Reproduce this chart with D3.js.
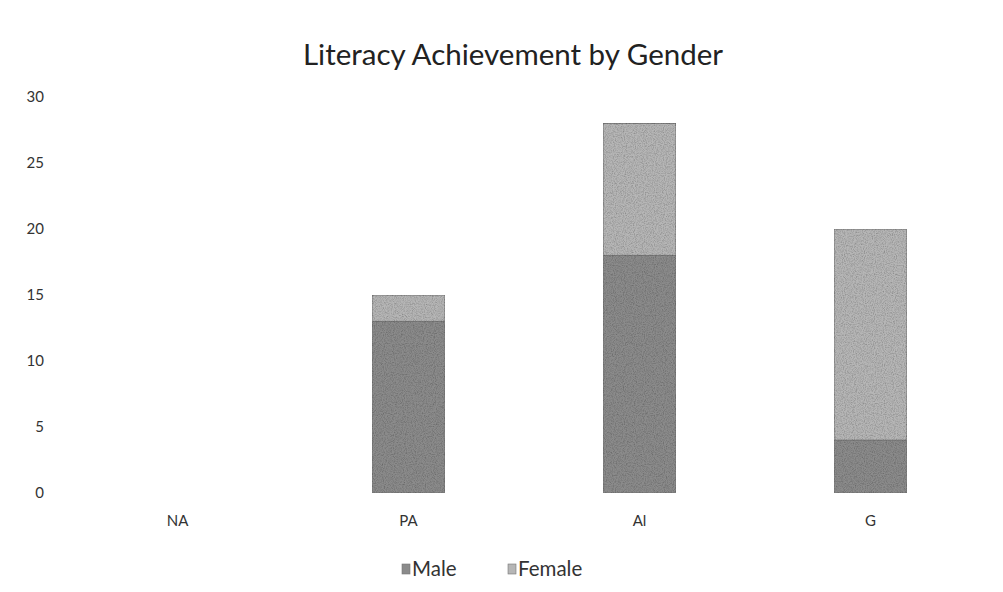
<!DOCTYPE html>
<html>
<head>
<meta charset="utf-8">
<script src="https://cdn.jsdelivr.net/npm/d3@7"></script>
<style>
  body { margin: 0; background: #fff; }
  svg { display: block; }
  text { font-family: Lato, "Open Sans", sans-serif; fill: #222; }
</style>
</head>
<body>
<svg id="chart" width="1003" height="592"></svg>
<script>
// Literacy achievement levels and counts per gender
const categories = ["NA", "PA", "Al", "G"];
const seriesNames = ["Male", "Female"];
const maleValues = [0, 13, 18, 4];
const femaleValues = [0, 2, 10, 16];
const yTicks = [0, 5, 10, 15, 20, 25, 30];
const seriesColors = ["#8b8b8b", "#b6b6b6"];

const W = 1003, H = 592;
const margin = { left: 62, right: 17, top: 97, bottom: 99 };

const svg = d3.select("#chart");

// grainy print texture for the bars
const defs = svg.append("defs");
const grain = defs.append("filter").attr("id", "grain")
  .attr("x", 0).attr("y", 0).attr("width", 1).attr("height", 1);
grain.append("feTurbulence").attr("type", "fractalNoise")
  .attr("baseFrequency", 0.9).attr("numOctaves", 2).attr("seed", 4).attr("result", "noise");
grain.append("feColorMatrix").attr("in", "noise").attr("type", "matrix")
  .attr("values", "0 0 0 0 0  0 0 0 0 0  0 0 0 0 0  0 0 0 -0.9 0.55").attr("result", "dots");
grain.append("feComposite").attr("in", "dots").attr("in2", "SourceGraphic").attr("operator", "in").attr("result", "dotsIn");
grain.append("feMerge").selectAll("feMergeNode").data(["SourceGraphic", "dotsIn"]).join("feMergeNode").attr("in", d => d);

const x = d3.scaleBand().domain(categories)
  .range([margin.left, W - margin.right]).paddingInner(0.684).paddingOuter(0.342);
const y = d3.scaleLinear().domain([0, 30]).range([H - margin.bottom, margin.top]);

// Title
svg.append("text").attr("x", 513).attr("y", 65).attr("text-anchor", "middle")
  .style("font-size", "29.5px").style("fill", "#222").text("Literacy Achievement by Gender");

// Y axis (labels only)
const yAxis = d3.axisLeft(y).tickValues(yTicks).tickSize(0).tickPadding(0);
const yg = svg.append("g").attr("transform", `translate(${44},0)`).call(yAxis);
yg.select(".domain").remove();
yg.selectAll("text").style("font-size", "15px").style("fill", "#333");

// X axis (labels only)
const xAxis = d3.axisBottom(x).tickSize(0).tickPadding(0);
const xg = svg.append("g").attr("transform", `translate(0,${H - margin.bottom + 22})`).call(xAxis);
xg.select(".domain").remove();
xg.selectAll("text").style("font-size", "15px").style("fill", "#333");

// Stacked bars
const rows = categories.map((c, i) => ({ cat: c, Male: maleValues[i], Female: femaleValues[i] }));
const stacked = d3.stack().keys(seriesNames)(rows);

svg.append("g").selectAll("g").data(stacked).join("g")
  .attr("fill", (d, i) => seriesColors[i])
  .selectAll("rect").data(d => d.filter(p => p[1] - p[0] > 0)).join("rect")
  .attr("x", d => x(d.data.cat))
  .attr("y", d => y(d[1]))
  .attr("width", x.bandwidth())
  .attr("height", d => y(d[0]) - y(d[1]))
  .attr("stroke", "#777").attr("stroke-width", 1)
  .attr("filter", "url(#grain)");

// Legend
const legend = svg.append("g").attr("transform", `translate(0,${569})`);
const legendItems = [{ name: "Male", x: 402 }, { name: "Female", x: 508 }];
legendItems.forEach((it, i) => {
  legend.append("rect").attr("x", it.x).attr("y", -5).attr("width", 8).attr("height", 10)
    .attr("fill", seriesColors[i]).attr("stroke", "#777").attr("stroke-width", 0.6);
  legend.append("text").attr("x", it.x + 10).attr("y", 0).attr("dy", "0.35em")
    .style("font-size", "20.5px").style("fill", "#333").text(seriesNames[i]);
});
</script>
</body>
</html>
